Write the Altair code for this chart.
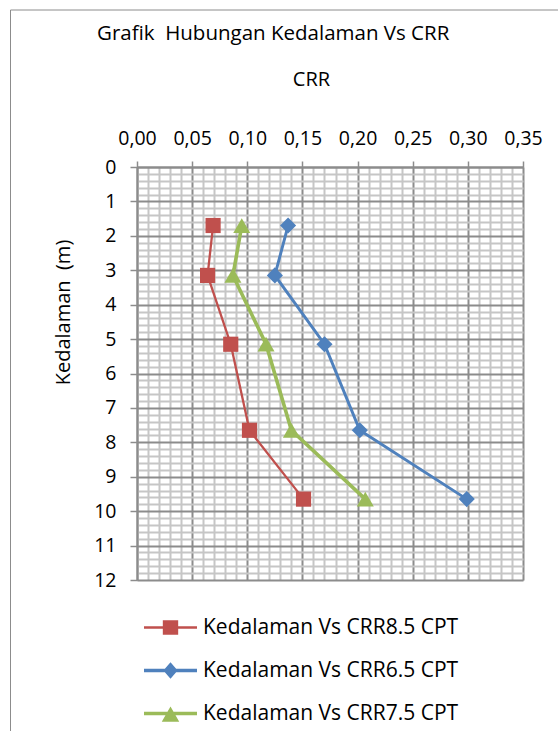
import altair as alt
import pandas as pd

# ---- data ----
series_names = ["Kedalaman Vs CRR8.5 CPT", "Kedalaman Vs CRR6.5 CPT", "Kedalaman Vs CRR7.5 CPT"]
depths = [1.7, 3.15, 5.15, 7.65, 9.65]
crr_85 = [0.069, 0.064, 0.085, 0.102, 0.151]
crr_65 = [0.137, 0.125, 0.170, 0.202, 0.299]
crr_75 = [0.095, 0.087, 0.117, 0.140, 0.207]
colors = ["#C0504D", "#4F81BD", "#9BBB59"]
marker_shapes = ["square", "diamond", "triangle-up"]
marker_sizes = [230, 290, 340]
line_widths = [2.3, 3.6, 3.8]
legend_shapes = [
    "M-1,-0.045H1V0.045H-1Z M-0.29,-0.27H0.29V0.27H-0.29Z",
    "M-1,-0.065H1V0.065H-1Z M0,-0.31L0.27,0L0,0.31L-0.27,0Z",
    "M-1,-0.065H1V0.065H-1Z M0,-0.26L0.33,0.31L-0.33,0.31Z",
]

x_ticks = [round(i * 0.01, 2) for i in range(36)]
y_ticks = [round(i * 0.2, 1) for i in range(61)]

rows = []
for name, vals in zip(series_names, [crr_85, crr_65, crr_75]):
    for d, v in zip(depths, vals):
        rows.append({"series": name, "depth": d, "crr": v})
df = pd.DataFrame(rows)

FONT = "Open Sans"
MAJOR = "#8c8c8c"
MINOR = "#c6c6c6"
x_major = "round(datum.value * 100) % 5 == 0"
y_major = "abs(datum.value - round(datum.value)) < 0.001"

x_axis = alt.Axis(
    orient="top", values=x_ticks, title="CRR",
    labelExpr=f"{x_major} ? replace(format(datum.value, '.2f'), '.', ',') : ''",
    labelOverlap=False, labelFlush=False, labelBound=False,
    labelFont=FONT, labelFontSize=19.5, labelColor="black", labelPadding=13,
    gridColor={"condition": {"test": x_major, "value": MAJOR}, "value": MINOR},
    gridWidth=2,
    tickOpacity={"condition": {"test": x_major, "value": 1}, "value": 0},
    tickSize=6, tickColor=MAJOR, tickWidth=1.5,
    domainColor=MAJOR, domainWidth=2,
    titleFont=FONT, titleFontSize=20, titleFontWeight="normal", titleColor="black",
    titleX=174, titleY=-88, titleBaseline="middle", titleAlign="center", titleAngle=0,
)
y_axis = alt.Axis(
    orient="left", values=y_ticks, title="Kedalaman\u00a0 (m)",
    labelExpr=f"{y_major} ? format(datum.value, 'd') : ''",
    labelOverlap=False, labelFlush=False, labelBound=False,
    labelFont=FONT, labelFontSize=19.5, labelColor="black", labelPadding=14,
    gridColor={"condition": {"test": y_major, "value": MAJOR}, "value": MINOR},
    gridWidth=2,
    tickOpacity={"condition": {"test": y_major, "value": 1}, "value": 0},
    tickSize=7, tickColor=MAJOR, tickWidth=1.5,
    domainColor=MAJOR, domainWidth=2,
    titleFont=FONT, titleFontSize=20, titleFontWeight="normal", titleColor="black",
    titleX=-74, titleY=145, titleBaseline="middle", titleAlign="center", titleAngle=270,
)

x_enc = alt.X("crr:Q", scale=alt.Scale(domain=[0, 0.35], nice=False, zero=False), axis=x_axis)
y_enc = alt.Y("depth:Q", scale=alt.Scale(domain=[0, 12], nice=False, reverse=True), axis=y_axis)
color_scale = alt.Scale(domain=series_names, range=colors)

base = alt.Chart(df)

lines = base.mark_line().encode(
    x=x_enc, y=y_enc,
    color=alt.Color("series:N", scale=color_scale, legend=None),
    strokeWidth=alt.StrokeWidth("series:N", scale=alt.Scale(domain=series_names, range=line_widths), legend=None),
    order=alt.Order("depth:Q"),
)

points = base.mark_point(filled=True, opacity=1).encode(
    x=x_enc, y=y_enc,
    color=alt.Color("series:N", scale=color_scale, legend=None),
    shape=alt.Shape("series:N", scale=alt.Scale(domain=series_names, range=marker_shapes), legend=None),
    size=alt.Size("series:N", scale=alt.Scale(domain=series_names, range=marker_sizes), legend=None),
)

legend_props = dict(
    title=None, orient="none", legendX=7, legendY=434, direction="vertical",
    labelFont=FONT, labelFontSize=21, labelColor="black", labelLimit=0,
    labelOffset=6, labelBaseline="middle",
    symbolSize=2809, symbolStrokeWidth=0, symbolOpacity=1,
    rowPadding=6, padding=0,
)
legend_layer = base.transform_filter("false").mark_point(filled=True, opacity=1).encode(
    x=x_enc, y=y_enc,
    color=alt.Color("series:N", scale=color_scale, legend=alt.Legend(**legend_props)),
    shape=alt.Shape("series:N", scale=alt.Scale(domain=series_names, range=legend_shapes),
                    legend=alt.Legend(**legend_props)),
)

frame_data = alt.Data(values=[{"k": 0}])
frame_left = alt.Chart(frame_data).mark_rule(color="#8c8c8c", strokeWidth=1).encode(
    x=alt.value(-126.5), y=alt.value(-157), y2=alt.value(600)
)
frame_top = alt.Chart(frame_data).mark_rule(color="#8c8c8c", strokeWidth=1).encode(
    x=alt.value(-126.5), x2=alt.value(500), y=alt.value(-157)
)

chart = alt.layer(lines, points, legend_layer, frame_left, frame_top).resolve_scale(
    color="independent", shape="independent"
).properties(
    width=386, height=413,
    autosize=alt.AutoSizeParams(type="none"),
    padding={"left": 137, "top": 167, "right": 35, "bottom": 151},
    title=alt.TitleParams(
        text="Grafik\u00a0 Hubungan Kedalaman Vs CRR", anchor="start", frame="group",
        dx=-40, dy=51, offset=0, baseline="alphabetic",
        font=FONT, fontSize=20.5, fontWeight="normal", color="black",
    ),
).configure_view(strokeWidth=0).configure(background="white")

chart.save("out.html", embed_options={"renderer": "svg", "actions": False})
